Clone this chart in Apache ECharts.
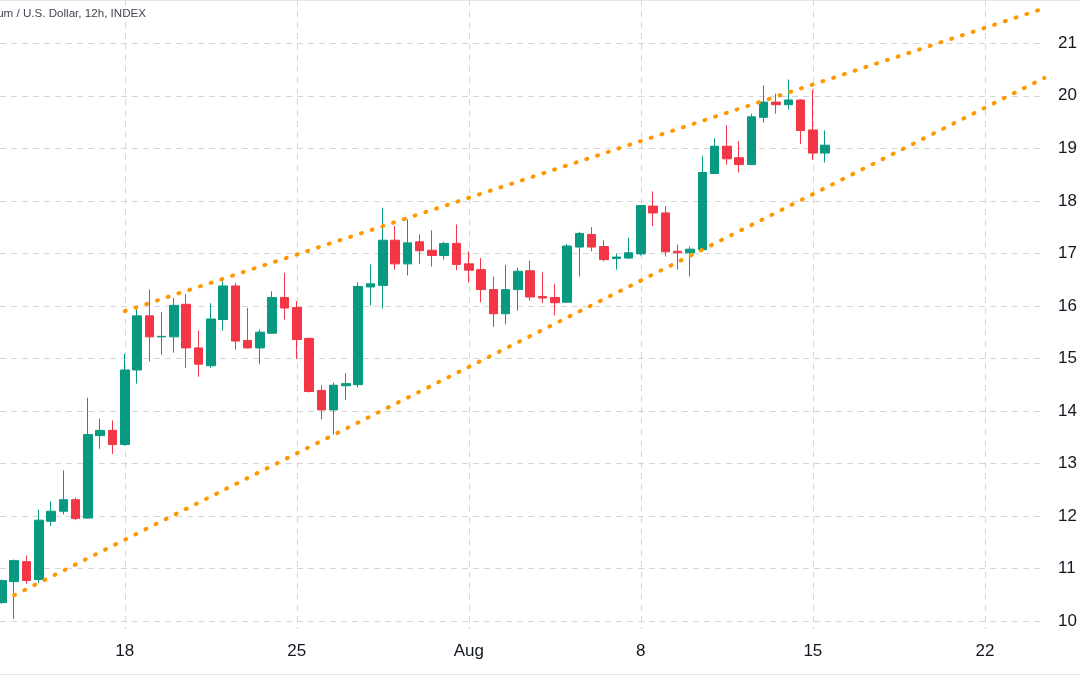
<!DOCTYPE html>
<html>
<head>
<meta charset="utf-8">
<script src="https://cdn.jsdelivr.net/npm/echarts@6/dist/echarts.min.js"></script>
<style>
html,body{margin:0;padding:0;background:#fff;}
#chart{width:1080px;height:675px;}
</style>
</head>
<body>
<div id="chart"></div>
<script>
// 12h candle open times (UTC)
const times = [
  '2022-07-13T00:00Z','2022-07-13T12:00Z','2022-07-14T00:00Z','2022-07-14T12:00Z',
  '2022-07-15T00:00Z','2022-07-15T12:00Z','2022-07-16T00:00Z','2022-07-16T12:00Z',
  '2022-07-17T00:00Z','2022-07-17T12:00Z','2022-07-18T00:00Z','2022-07-18T12:00Z',
  '2022-07-19T00:00Z','2022-07-19T12:00Z','2022-07-20T00:00Z','2022-07-20T12:00Z',
  '2022-07-21T00:00Z','2022-07-21T12:00Z','2022-07-22T00:00Z','2022-07-22T12:00Z',
  '2022-07-23T00:00Z','2022-07-23T12:00Z','2022-07-24T00:00Z','2022-07-24T12:00Z',
  '2022-07-25T00:00Z','2022-07-25T12:00Z','2022-07-26T00:00Z','2022-07-26T12:00Z',
  '2022-07-27T00:00Z','2022-07-27T12:00Z','2022-07-28T00:00Z','2022-07-28T12:00Z',
  '2022-07-29T00:00Z','2022-07-29T12:00Z','2022-07-30T00:00Z','2022-07-30T12:00Z',
  '2022-07-31T00:00Z','2022-07-31T12:00Z','2022-08-01T00:00Z','2022-08-01T12:00Z',
  '2022-08-02T00:00Z','2022-08-02T12:00Z','2022-08-03T00:00Z','2022-08-03T12:00Z',
  '2022-08-04T00:00Z','2022-08-04T12:00Z','2022-08-05T00:00Z','2022-08-05T12:00Z',
  '2022-08-06T00:00Z','2022-08-06T12:00Z','2022-08-07T00:00Z','2022-08-07T12:00Z',
  '2022-08-08T00:00Z','2022-08-08T12:00Z','2022-08-09T00:00Z','2022-08-09T12:00Z',
  '2022-08-10T00:00Z','2022-08-10T12:00Z','2022-08-11T00:00Z','2022-08-11T12:00Z',
  '2022-08-12T00:00Z','2022-08-12T12:00Z','2022-08-13T00:00Z','2022-08-13T12:00Z',
  '2022-08-14T00:00Z','2022-08-14T12:00Z','2022-08-15T00:00Z','2022-08-15T12:00Z'
];
const opens = [1035,1075,1113,1079,1190,1209,1231,1196,1353,1363,1336,1478,1581,1541,1541,1603,1520,1486,1574,1638,1534,1520,1548,1616,1597,1538,1439,1402,1448,1450,1636,1639,1725,1680,1722,1706,1696,1719,1680,1669,1631,1585,1631,1667,1618,1616,1607,1712,1736,1713,1690,1691,1699,1790,1777,1704,1701,1707,1852,1904,1882,1869,1959,1988,1983,1992,1935,1891];
const closes = [1077,1115,1077,1192,1209,1231,1195,1355,1363,1336,1478,1581,1541,1542,1601,1520,1489,1575,1638,1533,1520,1550,1616,1596,1536,1437,1402,1449,1452,1637,1642,1725,1680,1720,1705,1696,1719,1679,1668,1631,1585,1631,1666,1617,1615,1606,1714,1738,1712,1688,1693,1701,1791,1777,1703,1701,1708,1854,1904,1880,1869,1960,1988,1983,1992,1934,1891,1906];
const lows = [1033,1004,1071,1072,1181,1203,1192,1195,1328,1318,1334,1452,1494,1507,1511,1482,1465,1482,1553,1517,1519,1489,1547,1574,1499,1435,1384,1355,1421,1445,1601,1595,1669,1658,1680,1675,1688,1668,1644,1607,1560,1565,1591,1610,1605,1582,1606,1656,1704,1685,1669,1690,1696,1752,1694,1669,1656,1706,1851,1869,1854,1868,1949,1966,1974,1908,1878,1873];
const highs = [1079,1117,1125,1212,1228,1287,1235,1425,1385,1382,1509,1598,1631,1588,1615,1622,1553,1605,1647,1644,1596,1555,1628,1663,1609,1540,1449,1454,1472,1645,1679,1787,1752,1765,1736,1744,1722,1755,1704,1691,1656,1678,1673,1686,1664,1642,1718,1741,1750,1725,1699,1730,1792,1818,1790,1717,1713,1885,1919,1944,1914,1966,2020,2004,2031,1993,2012,1934];

// Trend channel drawn on the chart (time, price)
const upperLine = [['2022-07-18T00:00Z', 1590], ['2022-08-24T09:00Z', 2166]];
const lowerLine = [['2022-07-13T12:00Z', 1049], ['2022-08-24T10:00Z', 2034]];

// Axis ticks
const xTickDates = ['2022-07-18T00:00Z','2022-07-25T00:00Z','2022-08-01T00:00Z','2022-08-08T00:00Z','2022-08-15T00:00Z','2022-08-22T00:00Z'];
const xTickLabels = ['18','25','Aug','8','15','22'];
const yTicks = [1000,1100,1200,1300,1400,1500,1600,1700,1800,1900,2000,2100];
const yTickLabels = ['10','11','12','13','14','15','16','17','18','19','20','21'];

const ORIGIN = Date.parse('2022-07-18T00:00Z');
const toDay = s => (Date.parse(s) - ORIGIN) / 86400000;

const candleData = times.map((t, i) => [toDay(t), opens[i], closes[i], lows[i], highs[i]]);
const xTickVals = xTickDates.map(toDay);
const upperData = upperLine.map(p => [toDay(p[0]), p[1]]);
const lowerData = lowerLine.map(p => [toDay(p[0]), p[1]]);

const UP = '#089981', DOWN = '#F23645', TREND = '#FF9800';
const FONT = '"Liberation Sans", Arial, sans-serif';

const chart = echarts.init(document.getElementById('chart'), null, {renderer: 'canvas'});
chart.setOption({
  animation: false,
  backgroundColor: '#ffffff',
  title: {
    text: 'Ethereum / U.S. Dollar, 12h, INDEX',
    right: 934, top: 8, padding: 0,
    textStyle: {fontFamily: FONT, fontSize: 11.6, fontWeight: 'normal', color: '#434651'}
  },
  grid: {left: 0, right: 33, top: 0, bottom: 46, containLabel: false},
  xAxis: {
    type: 'value',
    min: -5.077, max: 37.45,
    axisLine: {show: false},
    axisTick: {show: false, customValues: xTickVals},
    axisLabel: {
      customValues: xTickVals,
      margin: 14,
      fontFamily: FONT, fontSize: 17, color: '#131722',
      formatter: v => { const i = xTickVals.findIndex(t => Math.abs(t - v) < 1e-6); return i >= 0 ? xTickLabels[i] : ''; }
    },
    splitLine: {show: true, lineStyle: {color: '#d6d6d6', width: 1, type: [6, 5]}}
  },
  yAxis: {
    type: 'value',
    position: 'right',
    min: 984.8, max: 2182.4,
    scale: true,
    axisLine: {show: false},
    axisTick: {show: false, customValues: yTicks},
    axisLabel: {
      customValues: yTicks,
      margin: 13,
      fontFamily: FONT, fontSize: 17, color: '#131722',
      formatter: v => { const i = yTicks.indexOf(Math.round(v)); return i >= 0 ? yTickLabels[i] : ''; }
    },
    splitLine: {show: true, lineStyle: {color: '#d6d6d6', width: 1, type: [6, 5]}}
  },
  series: [
    {
      type: 'candlestick',
      data: candleData,
      encode: {x: 0, y: [1, 2, 3, 4]},
      barWidth: 9,
      itemStyle: {color: UP, color0: DOWN, borderColor: UP, borderColor0: DOWN, borderWidth: 1}
    },
    {
      type: 'line', data: upperData, symbol: 'none', silent: true, z: 5,
      lineStyle: {color: TREND, width: 4, type: [1, 10.3], cap: 'round'}
    },
    {
      type: 'line', data: lowerData, symbol: 'none', silent: true, z: 5,
      lineStyle: {color: TREND, width: 4, type: [1, 10.3], cap: 'round'}
    }
  ],
  graphic: [
    {type: 'line', shape: {x1: 0, y1: 0.5, x2: 1080, y2: 0.5}, style: {stroke: '#e6e6e6', lineWidth: 1}, silent: true},
    {type: 'line', shape: {x1: 0, y1: 674.5, x2: 1080, y2: 674.5}, style: {stroke: '#e6e6e6', lineWidth: 1}, silent: true}
  ]
});
</script>
</body>
</html>
